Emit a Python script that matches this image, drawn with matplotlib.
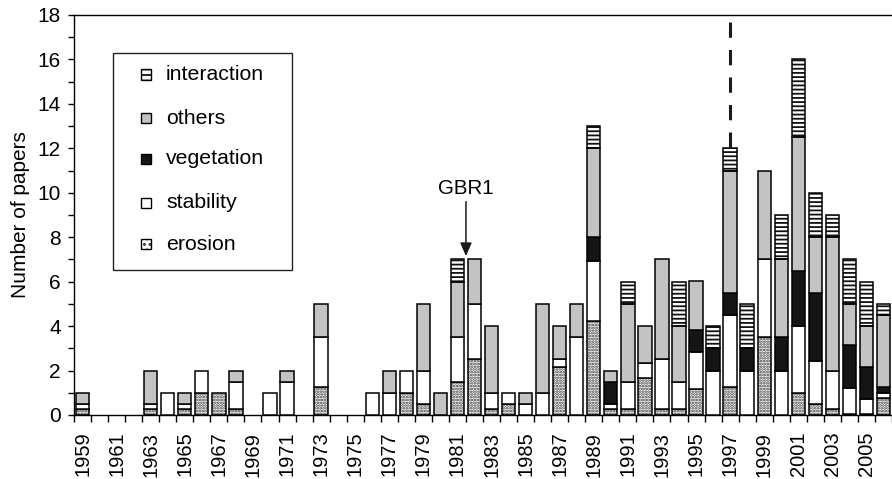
import numpy as np
import matplotlib
matplotlib.use("Agg")
import matplotlib.pyplot as plt
from matplotlib.patches import Rectangle

plt.rcParams["font.family"] = ["Liberation Sans", "DejaVu Sans"]
plt.rcParams["hatch.linewidth"] = 1.3

# Papers per year, split by research topic (fractional counts)
years = list(range(1959, 2007))

erosion = [0.25, 0, 0, 0, 0.25, 0, 0.25, 1, 1, 0.25,
           0, 0, 0, 0, 1.25, 0, 0, 0, 0, 1,
           0.5, 0, 1.5, 2.5, 0.25, 0.5, 0, 0, 2.17, 0,
           4.25, 0.25, 0.25, 1.67, 0.25, 0.25, 1.17, 0, 1.25, 0,
           3.5, 0, 1.0, 0.5, 0.25, 0.05, 0.05, 0.75]
stability = [0.25, 0, 0, 0, 0.25, 1, 0.25, 1, 0, 1.25,
             0, 1, 1.5, 0, 2.25, 0, 0, 1, 1, 1,
             1.5, 0, 2.0, 2.5, 0.75, 0.5, 0.5, 1, 0.33, 3.5,
             2.67, 0.25, 1.25, 0.67, 2.25, 1.25, 1.67, 2, 3.25, 2,
             3.5, 2, 3.0, 1.92, 1.75, 1.17, 0.67, 0.25]
vegetation = [0, 0, 0, 0, 0, 0, 0, 0, 0, 0,
              0, 0, 0, 0, 0, 0, 0, 0, 0, 0,
              0, 0, 0, 0, 0, 0, 0, 0, 0, 0,
              1.08, 1.0, 0, 0, 0, 0, 1.0, 1, 1.0, 1,
              0, 1.5, 2.5, 3.08, 0, 1.95, 1.45, 0.25]
others = [0.5, 0, 0, 0, 1.5, 0, 0.5, 0, 0, 0.5,
          0, 0, 0.5, 0, 1.5, 0, 0, 0, 1, 0,
          3, 1, 2.5, 2, 3, 0, 0.5, 4, 1.5, 1.5,
          4, 0.5, 3.5, 1.67, 4.5, 2.5, 2.17, 0, 5.5, 0,
          4, 3.5, 6.0, 2.5, 6, 1.83, 1.83, 3.25]
interaction = [0, 0, 0, 0, 0, 0, 0, 0, 0, 0,
               0, 0, 0, 0, 0, 0, 0, 0, 0, 0,
               0, 0, 1, 0, 0, 0, 0, 0, 0, 0,
               1, 0, 1, 0, 0, 2, 0, 1, 1, 2,
               0, 2, 3.5, 2, 1, 2, 2, 0.5]

series_names = ["erosion", "stability", "vegetation", "others", "interaction"]
y_ticks = list(range(0, 19, 2))
x_labels = [str(y) for y in years[::2]]

GRAY = "#c3c3c3"
DARK = "#151515"
styles = {
    "erosion": dict(face="white", hatch="......", hcol="#3a3a3a"),
    "stability": dict(face="white", hatch=None, hcol=None),
    "vegetation": dict(face=DARK, hatch=None, hcol=None),
    "others": dict(face=GRAY, hatch=None, hcol=None),
    "interaction": dict(face="white", hatch="----", hcol="#111111"),
}
series = dict(zip(series_names, [erosion, stability, vegetation, others, interaction]))

fig = plt.figure(figsize=(8.92, 4.79), dpi=100)
ax = fig.add_axes([74 / 892, 64 / 479, 818 / 892, 400 / 479])

x = np.array(years)
width = 0.78
bottom = np.zeros(len(years))
for name in series_names:
    vals = np.array(series[name], dtype=float)
    m = vals > 0
    st = styles[name]
    if st["hatch"]:
        ax.bar(x[m], vals[m], width, bottom=bottom[m], color="white",
               edgecolor=st["hcol"], hatch=st["hatch"], linewidth=0, zorder=2)
        ax.bar(x[m], vals[m], width, bottom=bottom[m], facecolor="none",
               edgecolor="black", linewidth=1.1, zorder=3)
    else:
        ax.bar(x[m], vals[m], width, bottom=bottom[m], facecolor=st["face"],
               edgecolor="black", linewidth=1.1, zorder=3)
    bottom += vals

# Dashed marker above 1997
ax.plot([1997, 1997], [17.68, 12.0], color="#1a1a1a", lw=2.2,
        dashes=(5, 4), solid_capstyle="butt", zorder=4)

# GBR1 annotation
ax.annotate("", xy=(1981.5, 7.15), xytext=(1981.5, 9.6),
            arrowprops=dict(arrowstyle="-|>,head_length=0.8,head_width=0.35",
                            color="#1a1a1a", lw=1.1, shrinkA=0, shrinkB=0))
ax.text(1981.5, 10.2, "GBR1", ha="center", va="center", fontsize=14.8)

# Axes and ticks
ax.set_xlim(1958.5, 2006.5)
ax.set_ylim(0, 18)
ax.set_yticks(y_ticks)
ax.set_yticks(range(0, 19), minor=True)
ax.tick_params(axis="y", which="both", direction="out", length=4.5, width=1.0,
               labelsize=15, pad=5)
ax.set_xticks(np.arange(1958.5, 2007, 1.0))
ax.set_xticklabels([])
ax.set_xticks(x[::2], minor=True)
ax.set_xticklabels(x_labels, minor=True, rotation=90, fontsize=14.5)
ax.tick_params(axis="x", which="major", direction="out", length=5, width=1.0)
ax.tick_params(axis="x", which="minor", length=0, pad=12)
ax.set_ylabel("Number of papers", fontsize=15, labelpad=5)

for side in ("left", "bottom", "top"):
    ax.spines[side].set_linewidth(1.0)
ax.spines["right"].set_visible(False)

# Legend box drawn in axes coordinates
tr = ax.transAxes
def ax_xy(px, py):
    return (px - 74) / 818, (415 - py) / 400

bx0, by1 = ax_xy(113, 53)
bx1, by0 = ax_xy(292, 270)
ax.add_patch(Rectangle((bx0, by0), bx1 - bx0, by1 - by0, transform=tr,
                       facecolor="white", edgecolor="#222222", lw=1.0, zorder=5))
legend_rows = [("interaction", 74.5), ("others", 118), ("vegetation", 158.5),
               ("stability", 203), ("erosion", 244)]
sw, sh = 10 / 818, 10 / 400
for name, py in legend_rows:
    st = styles[name]
    sx, sy = ax_xy(141, py + 5)
    if st["hatch"]:
        ax.add_patch(Rectangle((sx, sy), sw, sh, transform=tr, facecolor="white",
                               edgecolor=st["hcol"], hatch=st["hatch"][:3], lw=0, zorder=6))
        ax.add_patch(Rectangle((sx, sy), sw, sh, transform=tr, facecolor="none",
                               edgecolor="black", lw=1.0, zorder=7))
    else:
        ax.add_patch(Rectangle((sx, sy), sw, sh, transform=tr, facecolor=st["face"],
                               edgecolor="black", lw=1.0, zorder=6))
    tx, ty = ax_xy(166, py)
    ax.text(tx, ty, name, transform=tr, ha="left", va="center",
            fontsize=15.3, zorder=7)

fig.savefig("out.png", dpi=100)
